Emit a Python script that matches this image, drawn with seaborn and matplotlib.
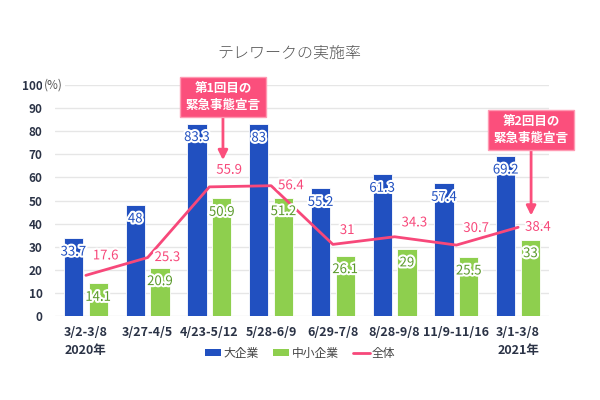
import numpy as np
import pandas as pd
import matplotlib
matplotlib.use("Agg")
import matplotlib.pyplot as plt
import matplotlib.patheffects as pe
from matplotlib.patches import Patch
from matplotlib.lines import Line2D
import seaborn as sns

periods = ["3/2-3/8\n2020年", "3/27-4/5", "4/23-5/12", "5/28-6/9",
           "6/29-7/8", "8/28-9/8", "11/9-11/16", "3/1-3/8\n2021年"]
large = [33.7, 48, 83.3, 83, 55.2, 61.3, 57.4, 69.2]
sme = [14.1, 20.9, 50.9, 51.2, 26.1, 29, 25.5, 33]
overall = [17.6, 25.3, 55.9, 56.4, 31, 34.3, 30.7, 38.4]
series_names = ["大企業", "中小企業", "全体"]
title = "テレワークの実施率"
notes = ["第1回目の\n緊急事態宣言", "第2回目の\n緊急事態宣言"]

# label offsets (points) for overall line labels
line_lab_dy = [14, 0, 12, 0, 10, 10, 12, 0]

BLUE = "#2150c0"
GREEN = "#8ecf4e"
RED = "#f7487a"
PINK = "#fb4f7c"
GTXT = "#5b9a2c"
NAVY = "#2b3346"

sns.set_theme(style="white")
plt.rcParams['font.family'] = ['Noto Sans CJK JP', 'DejaVu Sans']

df = pd.DataFrame({
    "period": periods * 2,
    "value": large + sme,
    "kind": [series_names[0]] * len(periods) + [series_names[1]] * len(periods),
})

fig = plt.figure(figsize=(6, 4), dpi=100)
ax = fig.add_axes([55/600, 1-316/400, 494/600, 231/400])

sns.barplot(data=df, x="period", y="value", hue="kind", order=periods,
            hue_order=series_names[:2], palette=[BLUE, GREEN], saturation=1,
            width=0.8, gap=0.22, ax=ax, legend=False, errorbar=None,
            edgecolor="white", linewidth=0.6, zorder=2)
xs = np.arange(len(periods))
sns.lineplot(x=xs, y=overall, color=RED, linewidth=2, ax=ax, zorder=3)

ax.set_xlim(-0.5, 7.5)
ax.set_ylim(0, 100)
ax.set_yticks(np.arange(0, 101, 10))
ax.yaxis.grid(True, color="#e6e6e6", linewidth=1, zorder=0)
ax.set_axisbelow(True)
for s in ax.spines.values():
    s.set_visible(False)
ax.set_xlabel("")
ax.set_ylabel("")
ax.tick_params(axis="y", length=0, pad=9, labelsize=8.5, labelcolor=NAVY)
ax.tick_params(axis="x", length=0, pad=7, labelsize=9, labelcolor=NAVY)
ax.set_xticks(xs)
ax.set_xticklabels(periods, linespacing=1.5)
for lab in ax.get_yticklabels() + ax.get_xticklabels():
    lab.set_fontweight("semibold")

ax.annotate("(%)", xy=(0, 100), xycoords=ax.get_yaxis_transform(),
            xytext=(-8, 0), textcoords="offset points", ha="left", va="center",
            fontsize=8.5, color="#555555",
            bbox=dict(boxstyle="square,pad=0.15", fc="white", ec="none"),
            annotation_clip=False)

stroke = [pe.withStroke(linewidth=3, foreground="white")]
for i in range(len(periods)):
    ax.annotate(f"{large[i]:g}", xy=(i - 0.2, large[i]), xytext=(0, -10),
                textcoords="offset points", ha="center", va="center",
                fontsize=9.5, color=BLUE, path_effects=stroke, zorder=5)
    ax.annotate(f"{sme[i]:g}", xy=(i + 0.2, sme[i]), xytext=(0, -10),
                textcoords="offset points", ha="center", va="center",
                fontsize=9.5, color=GTXT, path_effects=stroke, zorder=5)
    ax.annotate(f"{overall[i]:g}", xy=(i, overall[i]), xytext=(5, line_lab_dy[i]),
                textcoords="offset points", ha="left", va="center",
                fontsize=9.5, color=RED, path_effects=stroke, zorder=5)

box = dict(boxstyle="square,pad=0.45", fc=PINK, ec="#ff9ab3", lw=1)
for (bx, by, bb, tip), txt in zip([(2.22, 94.8, 86.5, 67.5), (7.21, 80.5, 72.3, 43.5)], notes):
    ax.annotate("", xy=(bx, tip), xytext=(bx, bb),
                arrowprops=dict(arrowstyle="-|>", color=PINK, lw=2, mutation_scale=14,
                                shrinkA=0, shrinkB=0), annotation_clip=False, zorder=6)
    ax.text(bx, by, txt, ha="center", va="center", fontsize=9, color="white",
            fontweight="bold", linespacing=1.35, bbox=box, zorder=7, clip_on=False)

fig.text(0.482, 1-53/400, title, ha="center", va="center", fontsize=11.5,
         color="#555555", fontweight="light")

handles = [Patch(facecolor=BLUE, edgecolor="none"),
           Patch(facecolor=GREEN, edgecolor="none"),
           Line2D([0], [0], color=RED, lw=2)]
fig.legend(handles, series_names, loc="center", bbox_to_anchor=(0.5, 1-353/400),
           ncol=3, frameon=False, fontsize=8.5, handlelength=1.4, handleheight=0.5,
           handletextpad=0.2, columnspacing=1.2, labelcolor="#444444")

fig.savefig("out.png", dpi=100)
